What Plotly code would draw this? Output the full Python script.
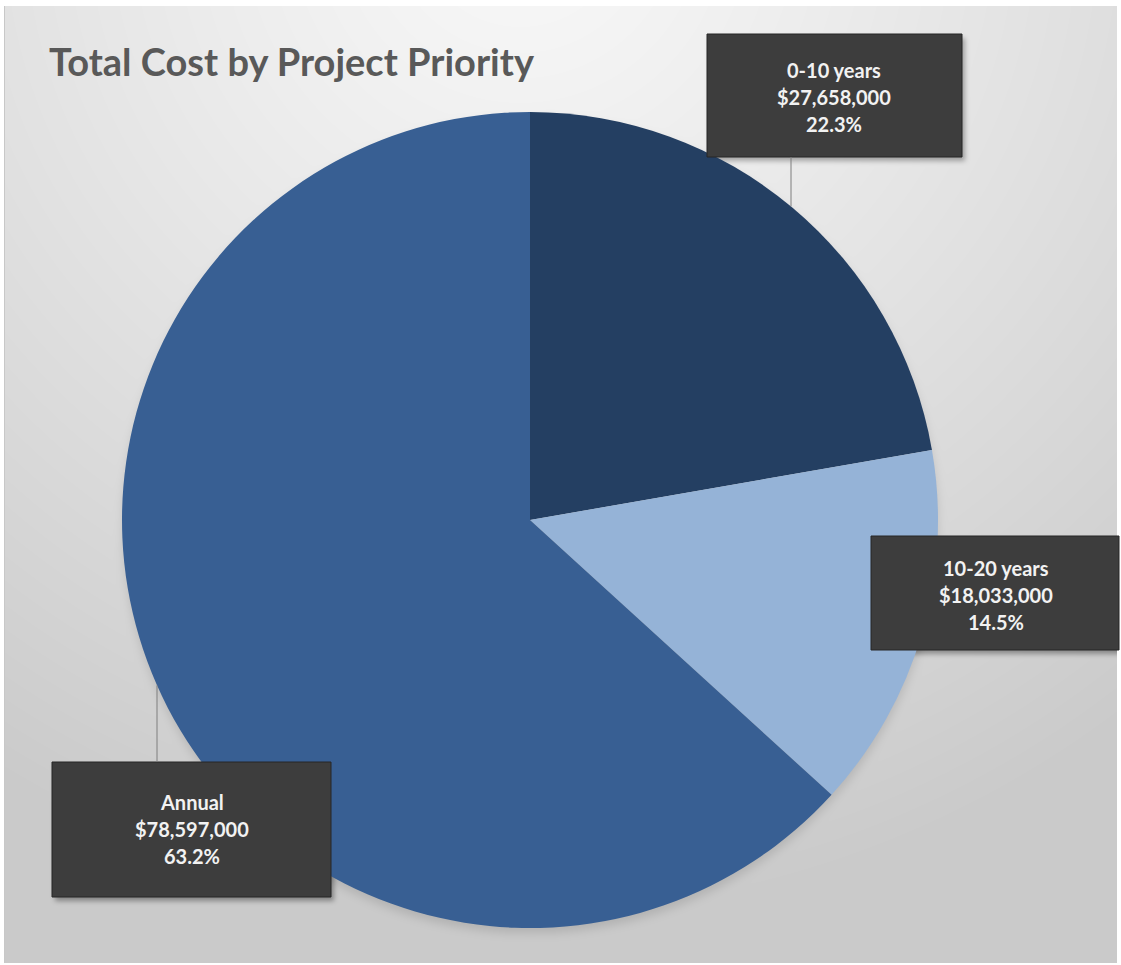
import base64
import struct
import zlib

import numpy as np
import plotly.graph_objects as go

# ---------------- data ----------------
categories = ["0-10 years", "10-20 years", "Annual"]
costs = [27658000, 18033000, 78597000]
slice_colors = ["#243f62", "#95b3d7", "#385f93"]
title_text = "Total Cost by Project Priority"

# ---------------- geometry (pixels) ----------------
W, H = 1121, 965
PIE_CX, PIE_CY, PIE_R = 530, 520, 408

# label boxes: (x0, y0, x1, y1) in pixels, text center x, first line center y
boxes = [
    (707, 34, 962, 157, 834, 70),
    (871, 536, 1119, 650, 996, 568),
    (52, 762, 331, 897, 192, 802),
]
LINE_GAP = 27
# leader lines: (x, box edge y, toward pie sign)
leaders = [(791, 157, -1), None, (157, 762, 1)]


def px(x):
    return x / W


def py(y):
    return 1 - y / H


# ---------------- background image (gradient + soft shadows) ----------------
def box_blur(a, r):
    k = 2 * r + 1
    p = np.pad(a, ((r, r), (r, r)), mode="edge")
    c = np.cumsum(p, axis=0)
    c = np.vstack([np.zeros((1, c.shape[1])), c])
    a1 = (c[k:] - c[:-k]) / k
    c = np.cumsum(a1, axis=1)
    c = np.hstack([np.zeros((c.shape[0], 1)), c])
    return (c[:, k:] - c[:, :-k]) / k


def blur(a, r, n=3):
    for _ in range(n):
        a = box_blur(a, r)
    return a


yy, xx = np.mgrid[0:H, 0:W].astype(float)
d = np.hypot(xx - 520, yy + 80)
bg = 248 - 46 * np.clip(d / 1000, 0, 1) ** 1.15

# pie soft shadow
pie_mask = (np.hypot(xx - PIE_CX, yy - (PIE_CY + 5)) <= PIE_R).astype(float)
pie_sh = blur(pie_mask, 4)
bg = bg - 24 * pie_sh

# box shadows
sh = np.zeros((H, W))
for (x0, y0, x1, y1, _, _) in boxes:
    sh[y0 + 4:y1 + 4, x0 + 3:x1 + 3] = 1.0
sh = blur(sh, 2)
bg = bg - 70 * sh

# white frame around the chart area
bg[:6, :] = 255
bg[963:, :] = 255
bg[:, :4] = 255
bg[:, 1117:] = 255
bg[6:963, 4] = 200

img = np.clip(np.round(bg), 0, 255).astype(np.uint8)


def png_gray(arr):
    h, w = arr.shape
    a = arr.astype(np.int16)
    diff = np.empty_like(a)
    diff[:, 0] = a[:, 0]
    diff[:, 1:] = a[:, 1:] - a[:, :-1]
    diff = (diff % 256).astype(np.uint8)
    raw = np.hstack([np.ones((h, 1), np.uint8), diff]).tobytes()

    def chunk(t, data):
        c = struct.pack(">I", len(data)) + t + data
        return c + struct.pack(">I", zlib.crc32(t + data) & 0xFFFFFFFF)

    ihdr = struct.pack(">IIBBBBB", w, h, 8, 0, 0, 0, 0)
    return (b"\x89PNG\r\n\x1a\n" + chunk(b"IHDR", ihdr)
            + chunk(b"IDAT", zlib.compress(raw, 9)) + chunk(b"IEND", b""))


bg_uri = "data:image/png;base64," + base64.b64encode(png_gray(img)).decode()

# ---------------- figure ----------------
fig = go.Figure(
    go.Pie(
        labels=categories,
        values=costs,
        marker=dict(colors=slice_colors, line=dict(width=0)),
        sort=False,
        direction="clockwise",
        rotation=0,
        textinfo="none",
        hoverinfo="label+value+percent",
        showlegend=False,
        domain=dict(
            x=[px(PIE_CX - PIE_R), px(PIE_CX + PIE_R)],
            y=[py(PIE_CY + PIE_R), py(PIE_CY - PIE_R)],
        ),
    )
)

total = sum(costs)
shapes = []
annotations = []

for i, (cat, val) in enumerate(zip(categories, costs)):
    x0, y0, x1, y1, tx, ty = boxes[i]
    shapes.append(dict(
        type="rect", xref="paper", yref="paper",
        x0=px(x0), x1=px(x1), y0=py(y1), y1=py(y0),
        fillcolor="#3d3d3d", line=dict(color="#262626", width=1), layer="above",
    ))
    lines = [cat, "${:,.0f}".format(val), "{:.1f}%".format(100 * val / total)]
    for k, t in enumerate(lines):
        annotations.append(dict(
            text="<b>%s</b>" % t, xref="paper", yref="paper",
            x=px(tx), y=py(ty + k * LINE_GAP), xanchor="center", yanchor="middle",
            showarrow=False, font=dict(family="Lato", size=20, color="#f2f2f2"),
        ))
    ld = leaders[i]
    if ld is not None:
        lx, ly, sgn = ld
        edge_y = PIE_CY + sgn * np.sqrt(PIE_R ** 2 - (lx - PIE_CX) ** 2)
        shapes.append(dict(
            type="line", xref="paper", yref="paper",
            x0=px(lx), x1=px(lx), y0=py(ly), y1=py(edge_y),
            line=dict(color="#7f7f7f", width=1), layer="above",
        ))

annotations.append(dict(
    text="<b>%s</b>" % title_text, xref="paper", yref="paper",
    x=px(47), y=py(61), xanchor="left", yanchor="middle", showarrow=False,
    font=dict(family="Lato", size=38, color="#595959"),
))

fig.update_layout(
    width=W, height=H,
    margin=dict(l=0, r=0, t=0, b=0),
    paper_bgcolor="white",
    plot_bgcolor="white",
    shapes=shapes,
    annotations=annotations,
    images=[dict(
        source=bg_uri, xref="paper", yref="paper", x=0, y=1, sizex=1, sizey=1,
        xanchor="left", yanchor="top", sizing="stretch", layer="below",
    )],
)

fig.write_html("out.html")
